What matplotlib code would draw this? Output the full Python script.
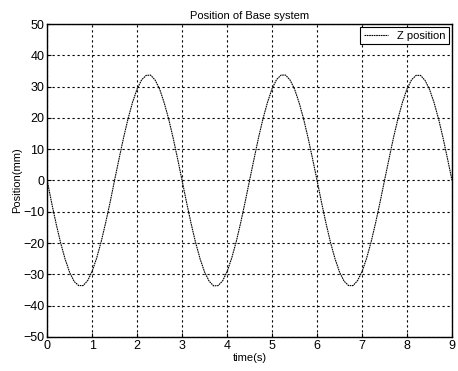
import matplotlib
matplotlib.use("Agg")
import matplotlib.pyplot as plt

plt.rcParams['font.family'] = ['Liberation Sans', 'DejaVu Sans']

# time axis (s) and Z position (mm), 0.1 s steps
time_s = [round(i * 0.1, 1) for i in range(91)]
z_pos = [
    0.0, -7.2, -13.9, -20.0, -25.2, -29.4, -32.3, -33.6, -33.6, -32.0,
    -29.0, -24.8, -19.6, -13.5, -6.9, 0.2, 7.1, 13.8, 19.9, 25.1,
    29.3, 32.2, 33.6, 33.7, 32.1, 29.2, 24.9, 19.7, 13.6, 6.9,
    -0.1, -7.1, -13.8, -19.9, -25.1, -29.3, -32.2, -33.7, -33.6, -32.1,
    -29.1, -24.9, -19.7, -13.6, -6.9, 0.1, 7.0, 13.8, 19.9, 25.1,
    29.4, 32.3, 33.7, 33.7, 32.1, 29.2, 24.9, 19.7, 13.6, 6.9,
    0.0, -7.1, -13.8, -19.9, -25.1, -29.3, -32.2, -33.6, -33.6, -32.0,
    -29.1, -24.9, -19.7, -13.6, -6.9, 0.1, 7.0, 13.8, 19.9, 25.1,
    29.3, 32.2, 33.6, 33.6, 32.0, 29.1, 24.9, 19.7, 13.6, 6.9,
    0.0,
]

xticks = list(range(0, 10))
yticks = list(range(-50, 51, 10))

fig = plt.figure(figsize=(4.58, 3.71), dpi=100)
ax = fig.add_axes([0.103, 0.092, 0.884, 0.843])

ax.plot(time_s, z_pos, color='black', linewidth=0.8, linestyle=(0, (1.5, 0.6)),
        label='Z position')

ax.set_xlim(0, 9)
ax.set_ylim(-50, 50)
ax.set_xticks(xticks)
ax.set_yticks(yticks)
ax.tick_params(direction='in', length=3, labelsize=9, pad=2, width=0.8)
ax.grid(True, color='black', linestyle=(0, (2, 2.5)), linewidth=0.8)
for s in ax.spines.values():
    s.set_linewidth(1.0)

ax.set_title('Position of Base system', fontsize=8, pad=4)
ax.set_xlabel('time(s)', fontsize=8, labelpad=1)
ax.set_ylabel('Position(mm)', fontsize=8, labelpad=1)

leg = ax.legend(loc='upper right', fontsize=8, fancybox=False, framealpha=1,
                edgecolor='black', handlelength=2.2, borderpad=0.3,
                borderaxespad=0.3)
leg.get_frame().set_linewidth(0.8)

fig.savefig('out.png', dpi=100)
